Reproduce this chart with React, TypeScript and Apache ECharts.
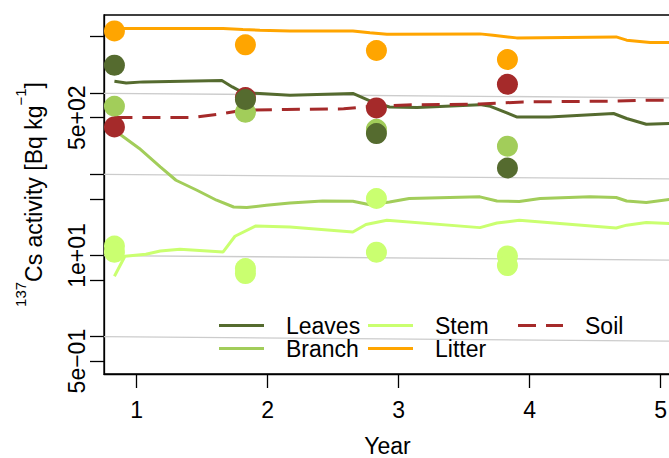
import { useEffect, useRef } from "react";
import * as echarts from "echarts";

// Field observations (sampling years, Bq/kg)
const obsYears = [0.83, 1.83, 2.83, 3.83];
const leavesObs = [2220, 839, 319, 120];
const branchObs = [693, 585, 360, 223];
const stemObsA = [13.1, 6.92, 50.5, 9.89];
const stemObsB = [11.0, 6.0, 11.0, 7.53];
const litterObs = [5875, 3953, 3372, 2612];
const soilObs = [385, 887, 661, 1294];

// Simulated activities per compartment
const leavesYears = [0.83, 0.92, 1.05, 1.65, 1.73, 1.81, 1.94, 2.17, 2.65, 2.78, 2.93, 3.14, 3.62, 3.7, 3.9, 4.15, 4.64, 4.74, 4.89, 5.08];
const leavesModel = [1409, 1343, 1383, 1439, 1199, 1023, 995, 948, 995, 805, 679, 668, 725, 690, 512, 512, 564, 489, 416, 425];

const branchYears = [0.83, 1.02, 1.18, 1.3, 1.46, 1.61, 1.74, 1.84, 1.99, 2.17, 2.42, 2.65, 2.78, 2.93, 3.08, 3.62, 3.75, 3.92, 4.08, 4.46, 4.66, 4.74, 4.89, 5.08];
const branchModel = [351, 209, 124, 84.8, 63.8, 48.1, 39.7, 39.1, 41.7, 44.6, 47.1, 46.8, 42.3, 45.8, 50.5, 52.9, 47.1, 46.4, 50.5, 52.9, 51.9, 47.1, 45.1, 49.6];

const stemYears = [0.83, 0.91, 1.07, 1.18, 1.33, 1.66, 1.75, 1.91, 2.17, 2.65, 2.75, 2.91, 3.62, 3.75, 3.92, 4.66, 4.74, 4.89, 5.08];
const stemModel = [5.56, 9.8, 10.4, 11.4, 12.0, 11.1, 17.3, 23.2, 22.5, 19.5, 24.1, 27.2, 22.1, 25.2, 27.2, 21.9, 23.7, 25.5, 24.8];

const litterYears = [0.83, 1.66, 1.81, 1.94, 2.17, 2.65, 2.78, 2.91, 3.62, 3.72, 3.9, 4.66, 4.74, 4.92, 5.08];
const litterModel = [6295, 6295, 6120, 5995, 5875, 5875, 5560, 5357, 5400, 5200, 4820, 4955, 4520, 4227, 4227];

const soilYears = [0.83, 1.43, 1.66, 1.81, 2.14, 2.58, 2.73, 3.06, 3.62, 3.95, 4.64, 4.89, 5.08];
const soilModel = [503, 503, 564, 619, 631, 643, 679, 719, 738, 783, 800, 823, 823];

// Grey reference lines: decay from round starting activities
const guideYears = [0.75, 5.08];
const guideStart = [1, 10, 100, 1000];
const guideEnd = [0.88, 8.8, 88, 880];

// Axis ticks
const yTickValues = [0.5, 1, 5, 10, 50, 100, 500, 1000, 5000];
const yLabelValues = [0.5, 10, 500];
const xTickValues = [1, 2, 3, 4, 5];

const COLORS = {
  Leaves: "#556B2F",
  Branch: "#A2CD5A",
  Stem: "#CAFF70",
  Litter: "#FFA500",
  Soil: "#A52A2A",
};

const FONT = "'Liberation Sans', Arial, Helvetica, sans-serif";
const BLACK = "#000000";

const pairs = (xs: number[], ys: number[]) => xs.map((x, i) => [x, ys[i]]);

// 5e+02 style labels
const sci = (v: number) => {
  const [m, e] = v.toExponential(0).split("e");
  const n = parseInt(e, 10);
  return `${m}e${n < 0 ? "\u2212" : "+"}${String(Math.abs(n)).padStart(2, "0")}`;
};

const modelLine = (name: string, xs: number[], ys: number[], dashed = false) => ({
  type: "line",
  name,
  data: pairs(xs, ys),
  symbol: "none",
  silent: true,
  z: 2,
  itemStyle: { color: COLORS[name as keyof typeof COLORS] },
  lineStyle: {
    color: COLORS[name as keyof typeof COLORS],
    width: 3,
    type: dashed ? [18, 10] : "solid",
    cap: "butt",
  },
});

const obsPoints = (name: string, data: number[][]) => ({
  type: "scatter",
  name,
  data,
  symbol: "circle",
  symbolSize: 21,
  silent: true,
  z: 3,
  itemStyle: { color: COLORS[name as keyof typeof COLORS], opacity: 1 },
});

const guideSeries = guideStart.map((v0, i) => ({
  type: "line",
  name: `guide${i}`,
  data: pairs(guideYears, [v0, guideEnd[i]]),
  symbol: "none",
  silent: true,
  z: 1,
  lineStyle: { color: "#cccccc", width: 1.3 },
}));

const legendEntry = (name: string, left: number, top: number) => ({
  data: [
    {
      name,
      icon: name === "Soil" ? "path://M0 0h18v3H0z M28 0h17v3H28z" : "rect",
    },
  ],
  left,
  top,
  padding: 0,
  itemWidth: 45,
  itemHeight: 3,
  itemGap: 0,
  selectedMode: false,
  itemStyle: { borderWidth: 0 },
  textStyle: {
    fontSize: 23,
    color: BLACK,
    fontFamily: FONT,
    lineHeight: 22,
    padding: [0, 0, 0, 17],
  },
});

const axisLineStyle = { color: BLACK, width: 1.3 };

const option = {
  animation: false,
  backgroundColor: "#ffffff",
  grid: {
    left: 104,
    right: -2,
    top: 15,
    bottom: 84,
    show: true,
    borderColor: BLACK,
    borderWidth: 1.3,
    backgroundColor: "transparent",
    containLabel: false,
    outerBoundsMode: "none",
  },
  legend: [
    legendEntry("Leaves", 219, 314),
    legendEntry("Branch", 219, 337),
    legendEntry("Stem", 368, 314),
    legendEntry("Litter", 368, 337),
    legendEntry("Soil", 518, 314),
  ],
  xAxis: {
    type: "value",
    min: 0.7504,
    max: 5.0786,
    name: "Year",
    nameLocation: "middle",
    nameGap: 60,
    nameTextStyle: { fontSize: 23, color: BLACK, fontFamily: FONT },
    axisLine: { show: true, onZero: false, lineStyle: axisLineStyle },
    axisTick: { show: true, length: 14, customValues: xTickValues, lineStyle: axisLineStyle },
    axisLabel: {
      customValues: xTickValues,
      fontSize: 23,
      color: BLACK,
      fontFamily: FONT,
      margin: 24,
    },
    splitLine: { show: false },
  },
  yAxis: {
    type: "log",
    logBase: 10,
    min: 0.3469,
    max: 9228,
    name: "{sup|137}{main|Cs activity [Bq kg}{sup|\u22121}{main|]}",
    nameLocation: "middle",
    nameRotate: 90,
    nameGap: 49,
    nameTextStyle: {
      rich: {
        main: { fontSize: 23, color: BLACK, fontFamily: FONT, lineHeight: 42 },
        sup: { fontSize: 15, color: BLACK, fontFamily: FONT, lineHeight: 15, verticalAlign: "top" },
      },
    },
    axisLine: { show: true, lineStyle: axisLineStyle },
    axisTick: { show: true, length: 14, customValues: yTickValues, lineStyle: axisLineStyle },
    axisLabel: {
      customValues: yLabelValues,
      formatter: (v: number) => sci(v),
      rotate: 90,
      fontSize: 23,
      color: BLACK,
      fontFamily: FONT,
      margin: 16,
    },
    splitLine: { show: false },
  },
  series: [
    ...guideSeries,
    modelLine("Leaves", leavesYears, leavesModel),
    modelLine("Branch", branchYears, branchModel),
    modelLine("Stem", stemYears, stemModel),
    modelLine("Litter", litterYears, litterModel),
    modelLine("Soil", soilYears, soilModel, true),
    obsPoints("Stem", [...pairs(obsYears, stemObsA), ...pairs(obsYears, stemObsB)]),
    obsPoints("Branch", pairs(obsYears, branchObs)),
    obsPoints("Soil", pairs(obsYears, soilObs)),
    obsPoints("Litter", pairs(obsYears, litterObs)),
    obsPoints("Leaves", pairs(obsYears, leavesObs)),
  ],
};

export default function App() {
  const ref = useRef<HTMLDivElement>(null);
  useEffect(() => {
    if (!ref.current) return;
    const chart = echarts.init(ref.current, null, { renderer: "svg" });
    chart.setOption(option as any);
    return () => chart.dispose();
  }, []);
  return (
    <div
      ref={ref}
      style={{ position: "fixed", left: 0, top: 0, width: 669, height: 458, background: "#fff" }}
    />
  );
}
